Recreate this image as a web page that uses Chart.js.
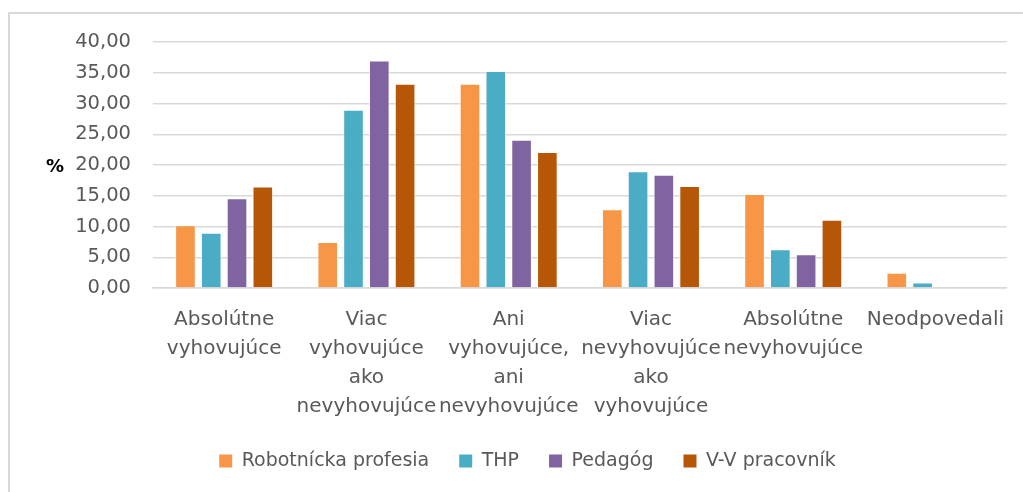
<!DOCTYPE html>
<html>
<head>
<meta charset="utf-8">
<script src="https://cdn.jsdelivr.net/npm/chart.js@4/dist/chart.umd.min.js"></script>
<style>
html,body{margin:0;padding:0;background:#fff;}
#wrap{width:1023px;height:492px;position:relative;}
</style>
</head>
<body>
<div id="wrap"><canvas id="c"></canvas></div>
<script>
const categories = [
  ['Absolútne', 'vyhovujúce'],
  ['Viac', 'vyhovujúce', 'ako', 'nevyhovujúce'],
  ['Ani', 'vyhovujúce,', 'ani', 'nevyhovujúce'],
  ['Viac', 'nevyhovujúce', 'ako', 'vyhovujúce'],
  ['Absolútne', 'nevyhovujúce'],
  ['Neodpovedali']
];
const seriesNames = ['Robotnícka profesia', 'THP', 'Pedagóg', 'V-V pracovník'];
const robotnicka = [10.2, 7.5, 33.2, 12.8, 15.3, 2.5];
const thp = [9.0, 29.0, 35.3, 19.0, 6.3, 0.9];
const pedagog = [14.6, 37.0, 24.1, 18.4, 5.5, 0];
const vvPracovnik = [16.5, 33.2, 22.1, 16.6, 11.1, 0];
const yTickLabels = ['0,00', '5,00', '10,00', '15,00', '20,00', '25,00', '30,00', '35,00', '40,00'];
const yAxisLabel = '%';

const colors = ['#F79646', '#4BACC6', '#8064A2', '#B65708'];
const seriesValues = [robotnicka, thp, pedagog, vvPracovnik];

const FONT = "'DejaVu Sans', Verdana, sans-serif";

const framePlugin = {
  id: 'frame',
  beforeDraw(chart) {
    const ctx = chart.ctx;
    ctx.save();
    ctx.fillStyle = '#ffffff';
    ctx.fillRect(0, 0, chart.width, chart.height);
    ctx.strokeStyle = '#d9d9d9';
    ctx.lineWidth = 2;
    ctx.strokeRect(9, 13, chart.width + 20, chart.height + 20);
    ctx.restore();
  }
};

const yTitlePlugin = {
  id: 'yTitle',
  afterDraw(chart) {
    const ctx = chart.ctx;
    const y = chart.scales.y.getPixelForValue(20);
    ctx.save();
    ctx.fillStyle = '#000000';
    ctx.font = "bold 18px " + FONT;
    ctx.textAlign = 'center';
    ctx.textBaseline = 'middle';
    ctx.fillText(yAxisLabel, 55, y + 2);
    ctx.restore();
  }
};

new Chart(document.getElementById('c'), {
  type: 'bar',
  data: {
    labels: categories,
    datasets: seriesNames.map((name, i) => ({
      label: name,
      data: seriesValues[i],
      backgroundColor: colors[i],
      borderColor: 'rgba(255,255,255,0.55)',
      borderWidth: 1,
      categoryPercentage: 0.725,
      barPercentage: 0.8
    }))
  },
  options: {
    responsive: true,
    maintainAspectRatio: false,
    animation: false,
    layout: { padding: { left: 48, right: 16, top: 42, bottom: 11.5 } },
    plugins: {
      tooltip: { enabled: false },
      legend: {
        position: 'bottom',
        labels: {
          boxWidth: 13,
          boxHeight: 13,
          padding: 30,
          color: '#595959',
          font: { family: FONT, size: 19 },
          generateLabels(chart) {
            return chart.data.datasets.map((ds, i) => ({
              text: ds.label,
              fillStyle: ds.backgroundColor,
              strokeStyle: 'rgba(0,0,0,0)',
              lineWidth: 0,
              hidden: false,
              datasetIndex: i,
              fontColor: '#595959'
            }));
          }
        }
      }
    },
    scales: {
      x: {
        grid: { display: false, drawTicks: false },
        border: { display: true, color: '#d9d9d9', width: 1.5 },
        ticks: {
          color: '#595959',
          font: { family: FONT, size: 20, lineHeight: 1.45 },
          padding: 17.5,
          maxRotation: 0,
          autoSkip: false
        },
        afterFit(scale) { scale.height = 133.5; }
      },
      y: {
        min: 0,
        max: 40,
        grid: { color: '#d9d9d9', lineWidth: 1.5, drawTicks: false },
        border: { display: false },
        ticks: {
          stepSize: 5,
          color: '#595959',
          font: { family: FONT, size: 19.5 },
          padding: 22,
          callback(value) {
            const idx = Math.round(value / 5);
            return yTickLabels[idx];
          }
        },
        afterFit(scale) { scale.width = 105; }
      }
    }
  },
  plugins: [framePlugin, yTitlePlugin]
});
</script>
</body>
</html>
